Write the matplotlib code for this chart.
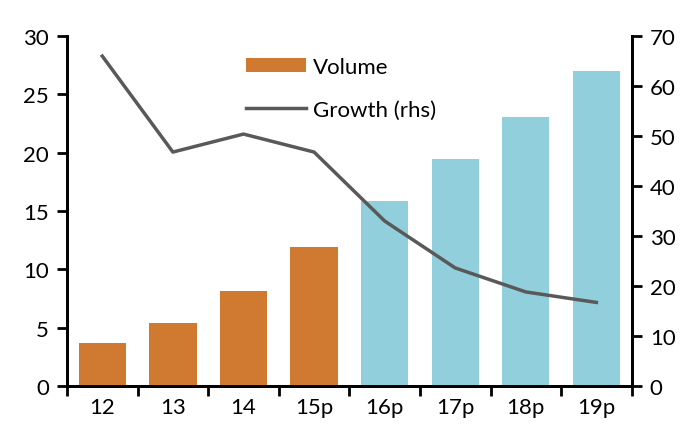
import matplotlib.pyplot as plt
import numpy as np

plt.rcParams["font.family"] = ["Lato", "DejaVu Sans"]

categories = ["12", "13", "14", "15p", "16p", "17p", "18p", "19p"]
volume = [3.7, 5.4, 8.1, 11.9, 15.9, 19.5, 23.1, 27.0]
growth = [66.0, 46.8, 50.4, 46.8, 33.0, 23.6, 18.8, 16.7]
forecast = [False, False, False, False, True, True, True, True]

ORANGE = "#D07A31"
BLUE = "#92CFDD"
GREY = "#595959"

fig = plt.figure(figsize=(6.98, 4.27), dpi=100)
ax = fig.add_axes([0.096, 0.094, 0.809, 0.819])
ax2 = ax.twinx()

x = np.arange(len(categories))
colors = [BLUE if f else ORANGE for f in forecast]
bars = ax.bar(x, volume, width=0.67, color=colors, zorder=1)
line, = ax2.plot(x, growth, color=GREY, lw=2.5, zorder=3)

ax.set_xlim(-0.5, len(categories) - 0.5)
ax.set_ylim(0, 30)
ax2.set_ylim(0, 70)
ax.set_yticks(np.arange(0, 31, 5))
ax2.set_yticks(np.arange(0, 71, 10))

# category labels centred, tick marks on the boundaries
ax.set_xticks(x)
ax.set_xticklabels(categories)
ax.set_xticks(np.arange(-0.5, len(categories)), minor=True)
ax.tick_params(axis="x", which="major", length=0, pad=8)
ax.tick_params(axis="x", which="minor", length=7, width=2, direction="out")

for a in (ax, ax2):
    a.spines["top"].set_visible(False)
    for s in ("left", "right", "bottom"):
        a.spines[s].set_linewidth(2)
    a.tick_params(labelsize=16)
ax.tick_params(axis="y", length=7, width=2, direction="out", pad=6)
ax2.tick_params(axis="y", length=7, width=2, direction="out", pad=6)
ax.tick_params(axis="x", labelsize=16)

ax2.legend([bars[0], line], ["Volume", "Growth (rhs)"],
           loc="upper left", bbox_to_anchor=(0.339, 0.886), bbox_transform=fig.transFigure,
           frameon=False, fontsize=16, handlelength=2.7, handleheight=0.6,
           labelspacing=1.05, handletextpad=0.35, borderaxespad=0)

fig.savefig("out.png", dpi=100)
